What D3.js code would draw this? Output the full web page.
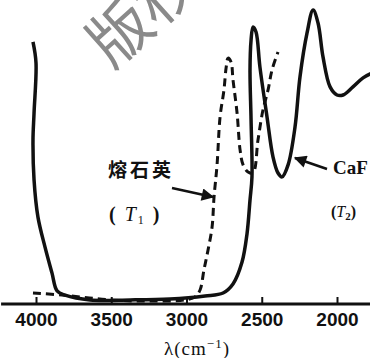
<!DOCTYPE html>
<html>
<head>
<meta charset="utf-8">
<script src="https://cdn.jsdelivr.net/npm/d3@7"></script>
<style>
    body { margin: 0; background: #fff; }
    #chart { width: 370px; height: 358px; }
</style>
</head>
<body>
<div id="chart"></div>
<script>
// data: wavenumber (cm-1) and transmission (%)
const caf2Wn = [4020, 4000, 4013, 4020, 4013, 3987, 3940, 3894, 3860, 3807, 3641, 3375, 3110, 2877, 2757, 2691, 2631, 2598, 2578, 2565, 2571, 2578, 2571, 2558, 2538, 2512, 2465, 2425, 2392, 2365, 2325, 2279, 2246, 2199, 2159, 2126, 2093, 2046, 2000, 1960, 1894, 1827, 1767];
const caf2T = [86.7, 79.7, 63, 54, 40.7, 28.3, 18.3, 9.7, 3.7, 2.3, 0.7, 0.7, 1, 2, 3, 6, 13.3, 22.7, 34, 41.7, 60.7, 77.3, 87.3, 91.7, 90, 78.3, 61.7, 48.3, 43, 41.7, 45.7, 58.3, 75, 89.7, 97.3, 93, 81.7, 71.7, 69, 69, 71.7, 74.7, 76.3];

const quartzWn = [4020, 3827, 3508, 3242, 3010, 2943, 2910, 2884, 2857, 2830, 2817, 2797, 2777, 2751, 2737, 2724, 2704, 2691, 2664, 2644, 2624, 2591, 2558, 2525, 2492, 2458, 2432, 2392];
const quartzT = [3, 2.3, 0.7, 0.3, 0.7, 1.7, 4, 10.7, 17.3, 25, 35, 45.7, 61.7, 70.7, 78, 81.3, 80, 74, 63, 50.7, 45.7, 43.3, 43, 54, 64, 70.7, 77.3, 83.3];

const tickValues = [4000, 3500, 3000, 2500, 2000];

// scales
const x = d3.scaleLinear().domain([4000, 2000]).range([36, 337]);
const y = d3.scaleLinear().domain([0, 100]).range([302, 2]);

const svg = d3.select("#chart")
    .append("svg")
    .attr("width", 370)
    .attr("height", 358);

// watermark (cut by the top edge, as in the scan)
svg.append("text")
    .attr("transform", "translate(112,70) rotate(-42)")
    .attr("font-family", "Noto Sans CJK SC")
    .attr("font-size", 62)
    .attr("fill", "#8a8a8a")
    .text("版权");

const line = d3.line()
    .x(d => x(d[0]))
    .y(d => y(d[1]))
    .curve(d3.curveCatmullRom.alpha(0.5));

// fused quartz, dashed
svg.append("path")
    .datum(d3.zip(quartzWn, quartzT))
    .attr("d", line)
    .attr("fill", "none")
    .attr("stroke", "#111")
    .attr("stroke-width", 3)
    .attr("stroke-dasharray", "8,5");

// CaF2, solid
svg.append("path")
    .datum(d3.zip(caf2Wn, caf2T))
    .attr("d", line)
    .attr("fill", "none")
    .attr("stroke", "#111")
    .attr("stroke-width", 3.5)
    .attr("stroke-linejoin", "round");

// x axis
svg.append("line")
    .attr("x1", x(4232)).attr("x2", x(1705))
    .attr("y1", 304).attr("y2", 304)
    .attr("stroke", "#111")
    .attr("stroke-width", 3);

const axis = svg.append("g")
    .attr("transform", "translate(0,304)")
    .call(d3.axisBottom(x).tickValues(tickValues).tickSizeInner(-7).tickSizeOuter(0).tickPadding(9).tickFormat(d3.format("d")));

axis.select(".domain").remove();
axis.selectAll(".tick line").attr("stroke", "#111").attr("stroke-width", 2);
axis.selectAll(".tick text")
    .attr("fill", "#111")
    .attr("font-family", "Liberation Sans")
    .attr("font-weight", "bold")
    .attr("font-size", 19);

// axis title
const title = svg.append("text")
    .attr("x", 197).attr("y", 355)
    .attr("text-anchor", "middle")
    .attr("font-family", "Liberation Serif")
    .attr("font-size", 19)
    .attr("letter-spacing", 1)
    .attr("fill", "#111")
    .text("λ(cm");
title.append("tspan").attr("dy", -7).attr("font-size", 13).text("−1");
title.append("tspan").attr("dy", 7).text(")");

// labels
svg.append("text")
    .attr("x", 108).attr("y", 177)
    .attr("font-family", "Noto Sans CJK SC")
    .attr("font-weight", "bold")
    .attr("font-size", 19)
    .attr("letter-spacing", 3)
    .attr("fill", "#111")
    .text("熔石英");

const t1 = svg.append("text")
    .attr("x", 109).attr("y", 221)
    .attr("font-family", "Liberation Serif")
    .attr("font-weight", "bold")
    .attr("font-size", 20)
    .attr("letter-spacing", 2)
    .attr("fill", "#111")
    .text("( ");
t1.append("tspan").attr("font-style", "italic").attr("font-weight", "normal").text("T");
t1.append("tspan").attr("dy", 3).attr("font-size", 12).attr("font-weight", "normal").text("1");
t1.append("tspan").attr("dy", -3).text(" )");

svg.append("text")
    .attr("x", 333).attr("y", 174)
    .attr("font-family", "Liberation Serif")
    .attr("font-weight", "bold")
    .attr("font-size", 19)
    .attr("fill", "#111")
    .text("CaF");

const t2 = svg.append("text")
    .attr("x", 331).attr("y", 217)
    .attr("font-family", "Liberation Serif")
    .attr("font-weight", "bold")
    .attr("font-size", 16)
    .attr("fill", "#111")
    .text("(");
t2.append("tspan").attr("font-style", "italic").attr("font-weight", "normal").text("T");
t2.append("tspan").attr("dy", 3).attr("font-size", 11).text("2");
t2.append("tspan").attr("dy", -3).text(")");

// arrows
svg.append("defs").append("marker")
    .attr("id", "head")
    .attr("viewBox", "0 0 10 10")
    .attr("refX", 9).attr("refY", 5)
    .attr("markerWidth", 6).attr("markerHeight", 5)
    .attr("orient", "auto")
    .append("path")
    .attr("d", "M0,0L10,5L0,10z")
    .attr("fill", "#111");

svg.append("line")
    .attr("x1", 172).attr("y1", 188)
    .attr("x2", 213).attr("y2", 197)
    .attr("stroke", "#111").attr("stroke-width", 2.5)
    .attr("marker-end", "url(#head)");

svg.append("line")
    .attr("x1", 327).attr("y1", 169)
    .attr("x2", 295).attr("y2", 158)
    .attr("stroke", "#111").attr("stroke-width", 2.5)
    .attr("marker-end", "url(#head)");
</script>
</body>
</html>
